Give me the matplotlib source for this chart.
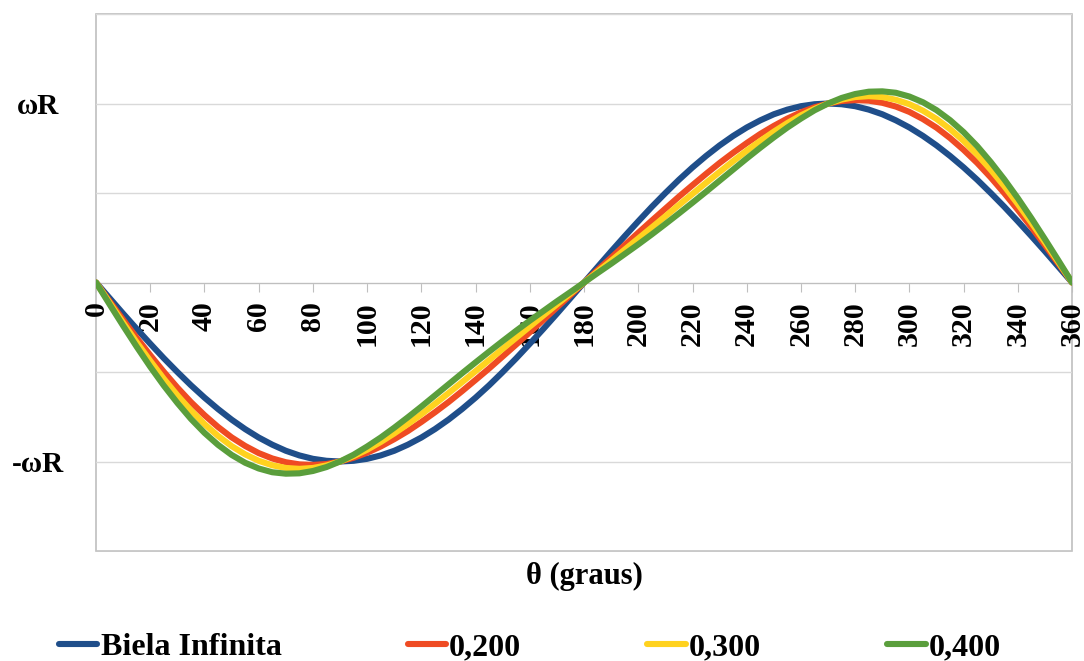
import matplotlib
matplotlib.use("Agg")
import matplotlib.pyplot as plt

# angulo da manivela (graus)
theta = list(range(0, 361, 5))

# velocidade do pistao (em unidades de wR)
biela_infinita = [0, -0.087, -0.174, -0.259, -0.342, -0.423, -0.500, -0.574, -0.643, -0.707,
                  -0.766, -0.819, -0.866, -0.906, -0.940, -0.966, -0.985, -0.996, -1.000,
                  -0.996, -0.985, -0.966, -0.940, -0.906, -0.866, -0.819, -0.766, -0.707,
                  -0.643, -0.574, -0.500, -0.423, -0.342, -0.259, -0.174, -0.087, 0,
                  0.087, 0.174, 0.259, 0.342, 0.423, 0.500, 0.574, 0.643, 0.707,
                  0.766, 0.819, 0.866, 0.906, 0.940, 0.966, 0.985, 0.996, 1.000,
                  0.996, 0.985, 0.966, 0.940, 0.906, 0.866, 0.819, 0.766, 0.707,
                  0.643, 0.574, 0.500, 0.423, 0.342, 0.259, 0.174, 0.087, 0]
v_200 = [0, -0.105, -0.208, -0.309, -0.406, -0.499, -0.587, -0.668, -0.741, -0.807,
         -0.865, -0.913, -0.953, -0.983, -1.004, -1.016, -1.019, -1.014, -1.000,
         -0.979, -0.951, -0.916, -0.875, -0.830, -0.779, -0.725, -0.668, -0.607,
         -0.544, -0.480, -0.413, -0.346, -0.278, -0.209, -0.139, -0.070, 0,
         0.070, 0.139, 0.209, 0.278, 0.346, 0.413, 0.480, 0.544, 0.607,
         0.668, 0.725, 0.779, 0.830, 0.875, 0.916, 0.951, 0.979, 1.000,
         1.014, 1.019, 1.016, 1.004, 0.983, 0.953, 0.913, 0.865, 0.807,
         0.741, 0.668, 0.587, 0.499, 0.406, 0.309, 0.208, 0.105, 0]
v_300 = [0, -0.113, -0.225, -0.334, -0.438, -0.538, -0.630, -0.715, -0.791, -0.857,
         -0.914, -0.960, -0.996, -1.021, -1.036, -1.041, -1.036, -1.022, -1.000,
         -0.970, -0.934, -0.891, -0.843, -0.791, -0.736, -0.678, -0.618, -0.557,
         -0.495, -0.433, -0.370, -0.308, -0.246, -0.184, -0.122, -0.061, 0,
         0.061, 0.122, 0.184, 0.246, 0.308, 0.370, 0.433, 0.495, 0.557,
         0.618, 0.678, 0.736, 0.791, 0.843, 0.891, 0.934, 0.970, 1.000,
         1.022, 1.036, 1.041, 1.036, 1.021, 0.996, 0.960, 0.914, 0.857,
         0.791, 0.715, 0.630, 0.538, 0.438, 0.334, 0.225, 0.113, 0]
v_400 = [0, -0.122, -0.242, -0.359, -0.471, -0.576, -0.673, -0.762, -0.840, -0.907,
         -0.963, -1.007, -1.039, -1.060, -1.068, -1.066, -1.053, -1.031, -1.000,
         -0.962, -0.916, -0.866, -0.811, -0.753, -0.693, -0.631, -0.569, -0.507,
         -0.446, -0.386, -0.327, -0.269, -0.213, -0.159, -0.105, -0.053, 0,
         0.053, 0.105, 0.159, 0.213, 0.269, 0.327, 0.386, 0.446, 0.507,
         0.569, 0.631, 0.693, 0.753, 0.811, 0.866, 0.916, 0.962, 1.000,
         1.031, 1.053, 1.066, 1.068, 1.060, 1.039, 1.007, 0.963, 0.907,
         0.840, 0.762, 0.673, 0.576, 0.471, 0.359, 0.242, 0.122, 0]

series_names = ["Biela Infinita", "0,200", "0,300", "0,400"]
series_colors = ["#1f4e8a", "#ef4b23", "#ffd21f", "#5a9e3c"]

x_ticks = list(range(0, 361, 20))
y_ticks = [-1.5, -1.0, -0.5, 0.0, 0.5, 1.0, 1.5]
y_labels = ["", "-ωR", "", "", "", "ωR", ""]

fig = plt.figure(figsize=(10.84, 6.61), dpi=100)
ax = fig.add_axes([0.0886, 0.1664, 0.9004, 0.8124])

for vals, name, col in zip([biela_infinita, v_200, v_300, v_400], series_names, series_colors):
    ax.plot(theta, vals, color=col, lw=4.4, label=name, solid_capstyle="round",
            solid_joinstyle="round", zorder=3)

ax.set_xlim(0, 360)
ax.set_ylim(-1.5, 1.5)

# grade horizontal
ax.set_yticks(y_ticks)
ax.set_yticklabels(y_labels, family="Liberation Serif", fontweight="bold", fontsize=21, ha="center")
ax.tick_params(axis="y", length=0, pad=42)
ax.grid(axis="y", color="#d9d9d9", lw=1)
ax.set_axisbelow(True)

# eixo das categorias passando pelo zero
for s in ["top", "right", "left"]:
    ax.spines[s].set_visible(False)
ax.spines["bottom"].set_position(("data", 0))
ax.spines["bottom"].set_color("#bfbfbf")
ax.spines["bottom"].set_zorder(2)
ax.patch.set_edgecolor("#bfbfbf")
ax.patch.set_linewidth(1.2)
ax.set_xticks(x_ticks)
ax.set_xticklabels([str(t) for t in x_ticks], rotation=90, fontsize=21.5,
                   family="Liberation Serif", fontweight="bold")
ax.tick_params(axis="x", direction="out", length=6.5, color="#bfbfbf", pad=7)

ax.text(0.5, -0.048, "θ (graus)", transform=ax.transAxes, ha="center", va="center",
        family="Liberation Serif", fontweight="bold", fontsize=22)

fig.legend(loc="center", bbox_to_anchor=(530 / 1084, 0.02), ncol=4, frameon=False,
           prop={"family": "Liberation Serif", "weight": "bold", "size": 23},
           handlelength=1.2, handletextpad=0.1, columnspacing=3.95, borderpad=0)

plt.savefig("out.png", dpi=100)
